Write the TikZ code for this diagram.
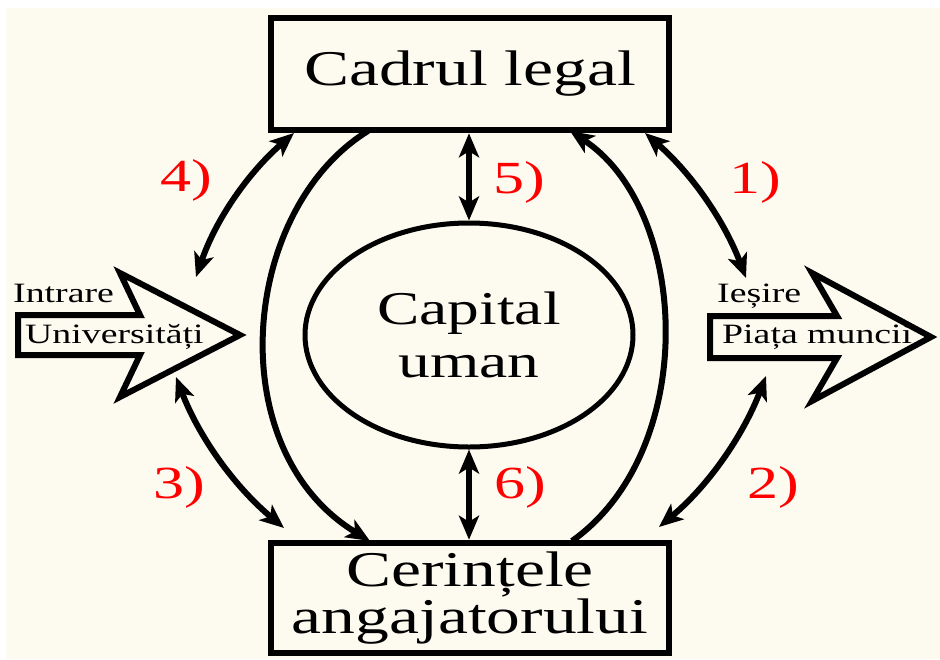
\documentclass[tikz,border=0pt]{standalone}
\usepackage{fontspec}
\setmainfont{Liberation Serif}[FakeStretch=1.35]
\usetikzlibrary{arrows.meta,shapes.geometric}
\definecolor{cream}{RGB}{253,251,240}
\begin{document}
\begin{tikzpicture}[x=1pt,y=-1pt,
  box/.style={draw, line width=6.5pt, fill=cream, inner sep=0pt, align=center,
    minimum width=398pt, minimum height=112pt},
  tipx/.tip={Stealth[length=24pt,width=20pt,inset=6pt]},
  conn/.style={line width=6pt, -tipx},
  dconn/.style={line width=6pt, tipx-tipx},
  lbl/.style={text=red, inner sep=0pt, font=\fontsize{46}{46}\selectfont},
  smalltxt/.style={inner sep=0pt, anchor=base west, font=\fontsize{28}{28}\selectfont},
  blockar/.style={draw, line width=6pt, fill=cream, line join=miter, miter limit=10}]
\useasboundingbox (0,0) rectangle (940,659);
\path[fill=white] (0,0) rectangle (940,659);
\path[fill=cream] (6,8) rectangle (940,659);

% boxes
\node[box, font=\fontsize{50}{50}\selectfont] (legal) at (470,74) {Cadrul legal};
\node[box, minimum height=110pt, font=\fontsize{50}{43}\selectfont] (cer) at (470,598) {Cerințele\\angajatorului};
\node[ellipse, draw, line width=5pt, fill=cream, inner sep=0pt, minimum width=328pt, minimum height=224pt,
  align=center, font=\fontsize{47}{53}\selectfont] (cap) at (469,335) {Capital\\uman};

% block arrows
\draw[blockar] (18,315) -- (140,315) -- (120,273) -- (240,335) -- (120,397) -- (140,355) -- (18,355) -- cycle;
\draw[blockar] (710,316) -- (837,316) -- (812,273) -- (931,337) -- (812,401) -- (837,358) -- (710,358) -- cycle;
\node[smalltxt] (intr) at (13,302) {Intrare};
\node[smalltxt] (univ) at (25,343) {Universități};
\node[smalltxt] (ies) at (717,302) {Ieșire};
\node[smalltxt] (piata) at (722,343) {Piața muncii};

% anchor coordinates
\coordinate (a4t) at (294,133);
\coordinate (a4b) at (196,277);
\coordinate (a1t) at (645,133);
\coordinate (a1b) at (746,278);
\coordinate (a3t) at (176,377);
\coordinate (a3b) at (284,528);
\coordinate (a2t) at (766,376);
\coordinate (a2b) at (659,527);

% outer arcs
\draw[conn] (368,131) .. controls (240,210) and (220,450) .. (370,541);
\draw[conn] (572,541) .. controls (700,450) and (690,210) .. (570,131);

% vertical
\draw[dconn] (legal.south -| cap.north) -- (cap.north);
\draw[dconn] (cap.south) -- (cer.north -| cap.south);

% curved double arrows
\draw[dconn] (a4t) .. controls (248,173) and (216,219) .. (a4b);
\draw[dconn] (a1t) .. controls (691,173) and (724,220) .. (a1b);
\draw[dconn] (a3t) .. controls (199,437) and (234,486) .. (a3b);
\draw[dconn] (a2t) .. controls (743,436) and (708,486) .. (a2b);

% labels
\node[lbl] (l4) at (186,180) {4)};
\node[lbl] (l5) at (519,182) {5)};
\node[lbl] (l1) at (755,182) {1)};
\node[lbl] (l3) at (179,487) {3)};
\node[lbl] (l6) at (520,487) {6)};
\node[lbl] (l2) at (773,487) {2)};
\end{tikzpicture}
\end{document}
